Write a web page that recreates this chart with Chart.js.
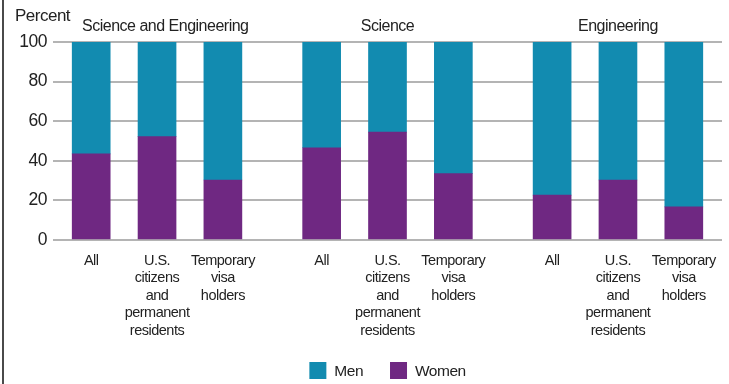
<!DOCTYPE html>
<html>
<head>
<meta charset="utf-8">
<script src="https://cdn.jsdelivr.net/npm/chart.js@4"></script>
<style>
    html, body { margin: 0; padding: 0; background: #fff; overflow: hidden; }
    #wrap { position: relative; width: 727px; height: 384px; border-left: 2px solid #4a4a4a; box-sizing: border-box; margin-left: 2px; }
</style>
</head>
<body>
<div id="wrap"><canvas id="chart" width="725" height="384"></canvas></div>
<script>
// doctorate share by sex, per field and citizenship status
const groups = ['Science and Engineering', 'Science', 'Engineering'];
const categories = [
    ['All'],
    ['U.S.', 'citizens', 'and', 'permanent', 'residents'],
    ['Temporary', 'visa', 'holders']
];
const women = [43.5, 52.2, 30.3, 46.6, 54.5, 33.5, 22.7, 30.3, 16.7];
const men = [56.5, 47.8, 69.7, 53.4, 45.5, 66.5, 77.3, 69.7, 83.3];
const yTicks = [0, 20, 40, 60, 80, 100];

const FONT = '"Liberation Sans", Arial, sans-serif';
const INK = '#222';
const MEN_COLOR = '#128bb0';
const WOMEN_COLOR = '#6f2882';
const TRACKING = '-0.5px';

// slot position of every bar: groups are separated by an extra half slot
let slots = [];
groups.forEach((g, gi) => categories.forEach((c, ci) => slots.push(gi * 3.5 + ci)));
let tickLabels = [];
groups.forEach(() => categories.forEach(c => tickLabels.push(c)));

let toPoints = arr => arr.map((v, i) => ({x: slots[i], y: v}));

// tighter letter spacing for every text the chart draws or measures
const tracking = {
    id: 'tracking',
    beforeLayout(chart) { chart.ctx.letterSpacing = TRACKING; },
    beforeDraw(chart) { chart.ctx.letterSpacing = TRACKING; }
};

// titles above each group, the y unit and the legend
const decorations = {
    id: 'decorations',
    afterDraw(chart) {
        let ctx = chart.ctx;
        let xs = chart.scales.x;
        ctx.save();
        ctx.letterSpacing = TRACKING;
        ctx.fillStyle = INK;
        ctx.textBaseline = 'alphabetic';

        ctx.font = '17px ' + FONT;
        ctx.textAlign = 'left';
        ctx.fillText('Percent', 11, 21);
        let percentRight = 11 + ctx.measureText('Percent').width;

        ctx.font = '16px ' + FONT;
        groups.forEach((g, gi) => {
            let cx = xs.getPixelForValue(gi * 3.5 + 1);
            let w = ctx.measureText(g).width;
            let left = Math.max(cx - w / 2, percentRight + 12);
            ctx.fillText(g, left, 31);
        });

        // legend, Men first
        ctx.font = '15.5px ' + FONT;
        let items = chart.data.datasets.slice().reverse();
        let box = 17, gap = 8, space = 27;
        let widths = items.map(d => box + gap + ctx.measureText(d.label).width);
        let total = widths.reduce((a, b) => a + b, 0) + space * (items.length - 1);
        let x = (chart.chartArea.left + chart.chartArea.right) / 2 - total / 2;
        let y = 362;
        ctx.textBaseline = 'middle';
        items.forEach((d, i) => {
            ctx.fillStyle = d.backgroundColor;
            ctx.fillRect(x, y, box, box);
            ctx.fillStyle = INK;
            ctx.fillText(d.label, x + box + gap, y + box / 2 + 1);
            x += widths[i] + space;
        });
        ctx.restore();
    }
};

new Chart(document.getElementById('chart').getContext('2d'), {
    type: 'bar',
    data: {
        datasets: [
            { label: 'Women', data: toPoints(women), backgroundColor: WOMEN_COLOR },
            { label: 'Men', data: toPoints(men), backgroundColor: MEN_COLOR }
        ]
    },
    options: {
        responsive: false,
        animation: false,
        barThickness: 38,
        layout: { padding: { top: 42, right: 7, bottom: 0, left: 0 } },
        plugins: {
            legend: { display: false },
            tooltip: { enabled: false }
        },
        scales: {
            x: {
                type: 'linear',
                stacked: true,
                offset: false,
                min: -0.58,
                max: 9.58,
                grid: { display: false, drawTicks: false, offset: false },
                border: { display: false },
                afterBuildTicks: scale => { scale.ticks = slots.map(v => ({value: v})); },
                afterFit: scale => { scale.height = 144; },
                ticks: {
                    autoSkip: false,
                    maxRotation: 0,
                    padding: 12,
                    color: INK,
                    font: { family: FONT, size: 14.5, lineHeight: 1.21 },
                    callback: (value, index) => tickLabels[index]
                }
            },
            y: {
                stacked: true,
                min: 0,
                max: 100,
                afterBuildTicks: scale => { scale.ticks = yTicks.map(v => ({value: v})); },
                afterFit: scale => { scale.width = 49; },
                grid: { color: '#b4b4b4', lineWidth: 2, drawTicks: false },
                border: { display: false },
                ticks: {
                    padding: 6,
                    color: INK,
                    font: { family: FONT, size: 17.5 }
                }
            }
        }
    },
    plugins: [tracking, decorations]
});
</script>
</body>
</html>
